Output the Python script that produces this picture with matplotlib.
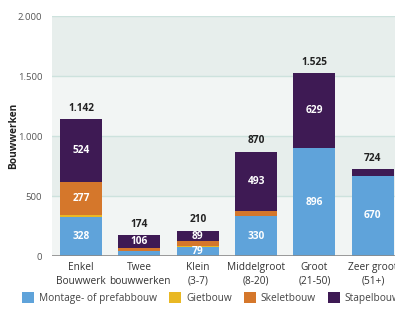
import numpy as np
import matplotlib
matplotlib.use('Agg')
import matplotlib.pyplot as plt

plt.rcParams['font.family'] = ['Open Sans', 'DejaVu Sans']

# data
categories = ['Enkel\nBouwwerk', 'Twee\nbouwwerken', 'Klein\n(3-7)', 'Middelgroot\n(8-20)', 'Groot\n(21-50)', 'Zeer groot\n(51+)']
montage = [328, 38, 79, 330, 896, 670]
giet = [13, 5, 7, 7, 0, 0]
skelet = [277, 25, 35, 40, 0, 0]
stapel = [524, 106, 89, 493, 629, 54]
totals = ['1.142', '174', '210', '870', '1.525', '724']
montage_lbl = ['328', '', '79', '330', '896', '670']
skelet_lbl = ['277', '', '', '', '', '']
stapel_lbl = ['524', '106', '89', '493', '629', '']
series_names = ['Montage- of prefabbouw', 'Gietbouw', 'Skeletbouw', 'Stapelbouw']
colors = ['#5fa3da', '#e9b824', '#d5772b', '#3e1a54']

fig = plt.figure(figsize=(3.95, 3.15), dpi=100)
ax = fig.add_axes([52/395, 1-256/315, 350/395, 240/315])

x = np.arange(len(categories))
w = 0.72
fs = 7.3

# background bands
band_cols = ['#f2f5f4', '#e7eeec']
for i in range(4):
    ax.axhspan(i*500, (i+1)*500, color=band_cols[i % 2], zorder=0, lw=0)
for yv in [500, 1000, 1500, 2000]:
    ax.axhline(yv, color='#cde2dd', lw=1.0, zorder=1)
ax.axhline(0, color='#8a8a8a', lw=1.2, zorder=4)

bottom = np.zeros(len(x))
bars = []
for vals, col, name in zip([montage, giet, skelet, stapel], colors, series_names):
    b = ax.bar(x, vals, w, bottom=bottom, color=col, label=name, zorder=3, edgecolor='none')
    bars.append(b)
    bottom = bottom + np.array(vals)

def inner(lbls, vals, base):
    for i, t in enumerate(lbls):
        if t:
            ax.text(x[i], base[i] + vals[i]/2, t, ha='center', va='center', color='white',
                    fontsize=fs, fontweight='bold', zorder=5)

b0 = np.zeros(len(x))
inner(montage_lbl, montage, b0)
b1 = b0 + np.array(montage) + np.array(giet)
inner(skelet_lbl, skelet, b1)
b2 = b1 + np.array(skelet)
inner(stapel_lbl, stapel, b2)
top = b2 + np.array(stapel)
for i, t in enumerate(totals):
    ax.text(x[i], top[i] + 45, t, ha='center', va='bottom', color='#222222',
            fontsize=fs, fontweight='bold', zorder=5)

ax.set_xlim(-0.5, 5.5)
ax.set_ylim(0, 2000)
ax.set_yticks([0, 500, 1000, 1500, 2000])
ax.set_yticklabels(['0', '500', '1.000', '1.500', '2.000'])
ax.set_xticks(x)
ax.set_xticklabels(categories, linespacing=1.3)
ax.tick_params(axis='y', length=0, pad=7, labelsize=6.8, labelcolor='#555555')
ax.tick_params(axis='x', length=0, pad=4.5, labelsize=fs, labelcolor='#333333')
for s in ax.spines.values():
    s.set_visible(False)
ax.set_ylabel('Bouwwerken', fontsize=fs, fontweight='bold', color='#222222')
ax.yaxis.set_label_coords(-33/350, 0.5)

fig.legend(handles=bars, labels=series_names, loc='center left', bbox_to_anchor=(13/395, 1-298/315),
           ncol=4, frameon=False, fontsize=fs, handlelength=1.2, handleheight=1.2,
           columnspacing=1.15, handletextpad=0.5, labelcolor='#444444')

fig.savefig('out.png', dpi=100)
